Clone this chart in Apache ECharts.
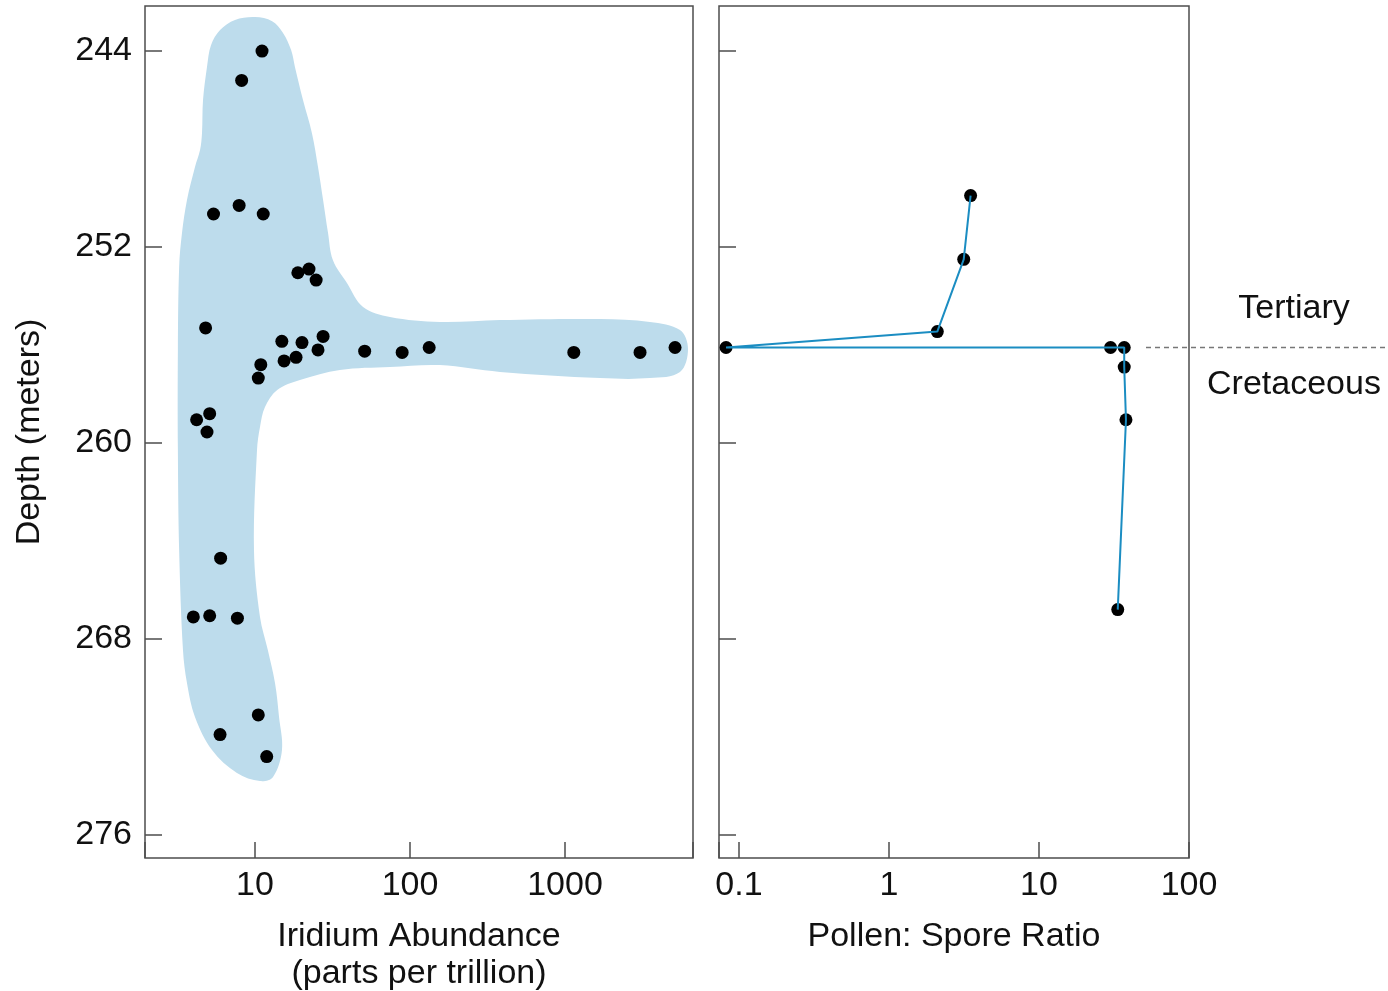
<!DOCTYPE html>
<html>
<head>
<meta charset="utf-8" />
<title>Iridium and pollen across the K-T boundary</title>
<script src="https://cdn.jsdelivr.net/npm/echarts@6/dist/echarts.min.js"></script>
<style>
  html, body { margin: 0; padding: 0; background: #fff; }
  #main { width: 1388px; height: 991px; }
</style>
</head>
<body>
<div id="main"></div>
<script>
// tick labels
var depthTicks = [244, 252, 260, 268, 276];
var iridiumTicks = [10, 100, 1000];
var ratioTicks = [0.1, 1, 10, 100];

// iridium samples: [parts per trillion, depth in m]
var iridiumPoints = [
  [11.1, 244.0], [8.2, 245.2], [5.4, 250.65], [7.9, 250.3], [11.3, 250.65],
  [18.9, 253.05], [22.3, 252.9], [24.8, 253.35], [4.8, 255.3], [14.9, 255.85],
  [20.1, 255.9], [27.5, 255.65], [25.5, 256.2], [51, 256.25], [89, 256.3],
  [133, 256.1], [1140, 256.3], [3050, 256.3], [5130, 256.1], [18.4, 256.5],
  [15.4, 256.65], [10.9, 256.8], [10.5, 257.35], [4.2, 259.05], [5.1, 258.8],
  [4.9, 259.55], [6.0, 264.7], [4.0, 267.1], [5.1, 267.05], [7.7, 267.15],
  [10.5, 271.1], [5.95, 271.9], [11.9, 272.8]
];

// pollen : spore ratio, top to bottom
var pollenPoints = [
  [3.5, 249.9], [3.15, 252.5], [2.1, 255.45], [0.082, 256.1], [30, 256.1],
  [37, 256.1], [37, 256.9], [38, 259.05], [33.5, 266.8]
];

// outline of the shaded iridium envelope: [ppt, depth], clockwise from the top
var blobOutline = [
  [10, 242.61], [12.9, 242.78], [15.2, 243.27], [17.1, 243.96], [18.1, 244.65],
  [20.4, 246.0], [23.3, 247.35], [25.5, 248.73], [27.5, 250.08], [29.6, 251.43],
  [31.8, 252.53], [39.2, 253.47], [49.8, 254.45], [74.3, 254.86], [156, 255.06],
  [381, 254.98], [1682, 254.94], [3532, 255.06], [5520, 255.39], [6220, 256.16],
  [5520, 257.1], [3532, 257.35], [1682, 257.35], [381, 257.1], [156, 256.82],
  [74.3, 256.9], [35.3, 257.02], [19.5, 257.43], [13.9, 257.84], [11.6, 258.53],
  [10.77, 259.35], [10.3, 260.29], [9.85, 264.37], [10.77, 267.1], [12.1, 268.45],
  [13.46, 269.8], [14.29, 271.18], [14.93, 272.53], [13.07, 273.63], [10.77, 273.8],
  [7.65, 273.47], [5.28, 272.53], [4.10, 271.18], [3.64, 269.8], [3.43, 268.45],
  [3.24, 264.37], [3.18, 260.29], [3.18, 256.2], [3.24, 252.82], [3.38, 251.43],
  [3.64, 250.08], [4.10, 248.73], [4.42, 248.04], [4.55, 247.35], [4.62, 246.0],
  [4.90, 244.65], [5.20, 243.76], [5.95, 243.14], [7.43, 242.73]
];

var boundaryDepth = 256.1;

var fontFamily = "'Liberation Sans', Arial, sans-serif";
var fontSize = 34;
var frameColor = '#4d4d4d';
var textColor = '#111';

function logLabel(ticks) {
  return function (v) {
    for (var i = 0; i < ticks.length; i++) {
      if (Math.abs(v - ticks[i]) / ticks[i] < 1e-6) return String(ticks[i]);
    }
    return '';
  };
}

var myChart = echarts.init(document.getElementById('main'));

var depthAxis = {
  type: 'value',
  inverse: true,
  min: 242.16,
  max: 276.94,
  splitLine: { show: false },
  axisLine: { show: false },
  axisTick: {
    inside: true, length: 17, customValues: depthTicks,
    lineStyle: { color: frameColor, width: 1.5 }
  },
  axisLabel: {
    customValues: depthTicks, margin: 13,
    fontSize: fontSize, fontFamily: fontFamily, color: textColor
  }
};

var option = {
  backgroundColor: '#fff',
  animation: false,
  grid: [
    { left: 145, top: 6, width: 548, height: 852, show: true, borderColor: frameColor, borderWidth: 1.5, outerBoundsMode: 'none' },
    { left: 719, top: 6, width: 470, height: 852, show: true, borderColor: frameColor, borderWidth: 1.5, outerBoundsMode: 'none' }
  ],
  xAxis: [
    {
      gridIndex: 0, type: 'log', min: 1.951, max: 6699,
      splitLine: { show: false }, axisLine: { show: false },
      axisTick: { inside: true, length: 16, lineStyle: { color: frameColor, width: 1.5 } },
      axisLabel: { formatter: logLabel(iridiumTicks), margin: 11, fontSize: fontSize, fontFamily: fontFamily, color: textColor, hideOverlap: false },
      name: 'Iridium Abundance\n(parts per trillion)',
      nameLocation: 'middle', nameGap: 60,
      nameTextStyle: { fontSize: fontSize, fontFamily: fontFamily, color: textColor, lineHeight: 37, verticalAlign: 'top' }
    },
    {
      gridIndex: 1, type: 'log', min: 0.0736, max: 100,
      splitLine: { show: false }, axisLine: { show: false },
      axisTick: { inside: true, length: 16, lineStyle: { color: frameColor, width: 1.5 } },
      axisLabel: { formatter: logLabel(ratioTicks), margin: 11, fontSize: fontSize, fontFamily: fontFamily, color: textColor, hideOverlap: false },
      name: 'Pollen: Spore Ratio',
      nameLocation: 'middle', nameGap: 60,
      nameTextStyle: { fontSize: fontSize, fontFamily: fontFamily, color: textColor, lineHeight: 37, verticalAlign: 'top' }
    }
  ],
  yAxis: [
    Object.assign({}, depthAxis, {
      gridIndex: 0,
      name: 'Depth (meters)',
      nameLocation: 'middle', nameGap: 98,
      nameTextStyle: { fontSize: fontSize, fontFamily: fontFamily, color: textColor }
    }),
    Object.assign({}, depthAxis, {
      gridIndex: 1,
      axisLabel: { show: false }
    })
  ],
  series: [
    {
      type: 'custom',
      xAxisIndex: 0, yAxisIndex: 0,
      z: 1,
      silent: true,
      data: blobOutline,
      renderItem: function (params, api) {
        if (params.dataIndex !== 0) return null;
        var pts = blobOutline.map(function (p) { return api.coord(p); });
        return {
          type: 'polygon',
          shape: { points: pts, smooth: 0.35 },
          style: { fill: '#bddcec', stroke: null }
        };
      }
    },
    {
      type: 'scatter',
      xAxisIndex: 0, yAxisIndex: 0,
      z: 3,
      symbolSize: 13,
      itemStyle: { color: '#000', opacity: 1 },
      data: iridiumPoints
    },
    {
      type: 'scatter',
      xAxisIndex: 1, yAxisIndex: 1,
      z: 2,
      symbolSize: 13,
      itemStyle: { color: '#000', opacity: 1 },
      data: pollenPoints
    },
    {
      type: 'line',
      xAxisIndex: 1, yAxisIndex: 1,
      z: 3,
      showSymbol: false,
      lineStyle: { color: '#1b8dc2', width: 2 },
      data: pollenPoints
    }
  ]
};

myChart.setOption(option);

// K-T boundary marker and period labels, placed from the depth axis
var by = myChart.convertToPixel({ xAxisIndex: 1, yAxisIndex: 1 }, [1, boundaryDepth])[1];
myChart.setOption({
  graphic: [
    {
      type: 'line', z: 10,
      shape: { x1: 1146, y1: by, x2: 1388, y2: by },
      style: { stroke: '#777', lineWidth: 1.5, lineDash: [5, 4] }
    },
    {
      type: 'text', z: 10, x: 1294, y: by - 39,
      style: { text: 'Tertiary', fontSize: fontSize, fontFamily: fontFamily, fill: textColor, align: 'center', verticalAlign: 'middle' }
    },
    {
      type: 'text', z: 10, x: 1294, y: by + 37,
      style: { text: 'Cretaceous', fontSize: fontSize, fontFamily: fontFamily, fill: textColor, align: 'center', verticalAlign: 'middle' }
    }
  ]
});
</script>
</body>
</html>
